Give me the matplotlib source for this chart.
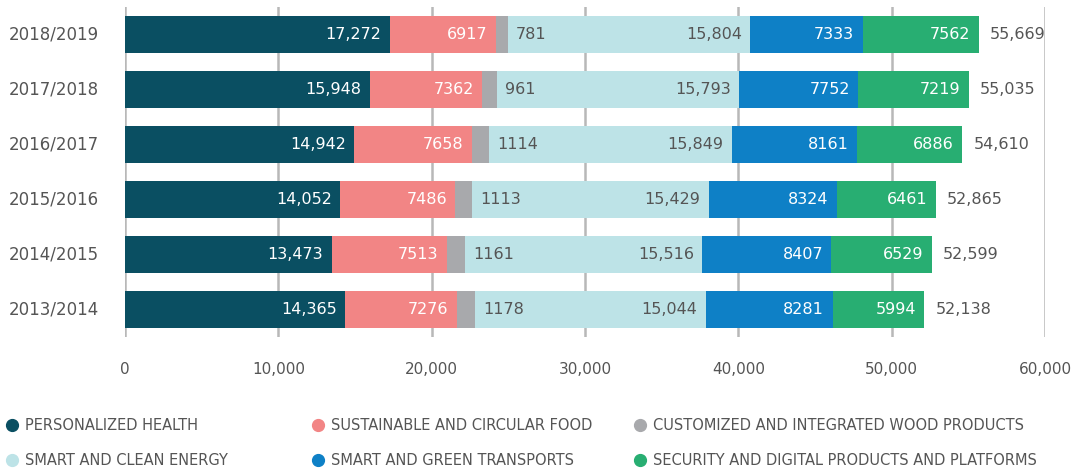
import numpy as np
import matplotlib.pyplot as plt
from matplotlib.lines import Line2D

years = ['2018/2019', '2017/2018', '2016/2017', '2015/2016', '2014/2015', '2013/2014']
categories = ['PERSONALIZED HEALTH', 'SUSTAINABLE AND CIRCULAR FOOD',
              'CUSTOMIZED AND INTEGRATED WOOD PRODUCTS', 'SMART AND CLEAN ENERGY',
              'SMART AND GREEN TRANSPORTS', 'SECURITY AND DIGITAL PRODUCTS AND PLATFORMS']
health = [17272, 15948, 14942, 14052, 13473, 14365]
food = [6917, 7362, 7658, 7486, 7513, 7276]
wood = [781, 961, 1114, 1113, 1161, 1178]
energy = [15804, 15793, 15849, 15429, 15516, 15044]
transport = [7333, 7752, 8161, 8324, 8407, 8281]
security = [7562, 7219, 6886, 6461, 6529, 5994]
ticks = [0, 10000, 20000, 30000, 40000, 50000, 60000]

colors = ['#0a4f62', '#f28585', '#a8a9ac', '#bde3e7', '#0e80c6', '#28ae72']
label_colors = ['white', 'white', '#555555', '#555555', 'white', 'white']
txt = '#555555'

plt.rcParams['font.family'] = ['DejaVu Sans']

W, H = 1074, 469
fig = plt.figure(figsize=(W / 100, H / 100), dpi=100)
ax = fig.add_axes([125 / W, 1 - 337 / H, (1045 - 125) / W, (337 - 7) / H])

series = [health, food, wood, energy, transport, security]
y = np.arange(len(years))
left = np.zeros(len(years))
for i, vals in enumerate(series):
    vals = np.array(vals, dtype=float)
    ax.barh(y, vals, left=left, height=0.67, color=colors[i], zorder=3)
    for j, v in enumerate(vals):
        s = f'{int(v):,}' if v >= 10000 else f'{int(v)}'
        if i == 2:
            # wood segment is too thin, label goes just right of it
            ax.annotate(s, (left[j] + v, j), xytext=(6, 0), textcoords='offset points',
                        ha='left', va='center', color=label_colors[i], fontsize=11.5, zorder=4)
        else:
            ax.annotate(s, (left[j] + v, j), xytext=(-6, 0), textcoords='offset points',
                        ha='right', va='center', color=label_colors[i], fontsize=11.5, zorder=4)
    left += vals

for j, tot in enumerate(left):
    ax.annotate(f'{int(tot):,}', (tot, j), xytext=(8, 0), textcoords='offset points',
                ha='left', va='center', color=txt, fontsize=11.5, zorder=4)

ax.set_xlim(0, 60000)
ax.set_ylim(5.5, -0.5)
ax.set_yticks(y)
ax.set_yticklabels(years, fontsize=12, color=txt, va='center')
ax.set_xticks(ticks)
ax.set_xticklabels([f'{t:,}' for t in ticks], fontsize=11, color=txt)
ax.tick_params(length=0, pad=19, axis='y')
ax.tick_params(length=0, pad=18, axis='x')
ax.xaxis.grid(True, color='#b8b8b8', linewidth=1.8, zorder=0)
for sp in ax.spines.values():
    sp.set_visible(False)

# legend: three columns, two rows, row-major order
col_x = [5, 311, 633]
for c in range(3):
    idx = [c, c + 3]
    handles = [Line2D([], [], marker='o', linestyle='', markersize=8.5, color=colors[k]) for k in idx]
    fig.legend(handles, [categories[k] for k in idx], loc='upper left',
               bbox_to_anchor=(col_x[c] / W, 1 - 418 / H), frameon=False,
               fontsize=10.5, labelcolor=txt, handletextpad=0.35, handlelength=1.0,
               labelspacing=1.4, borderaxespad=0, borderpad=0)

fig.savefig('out.png', dpi=100)
